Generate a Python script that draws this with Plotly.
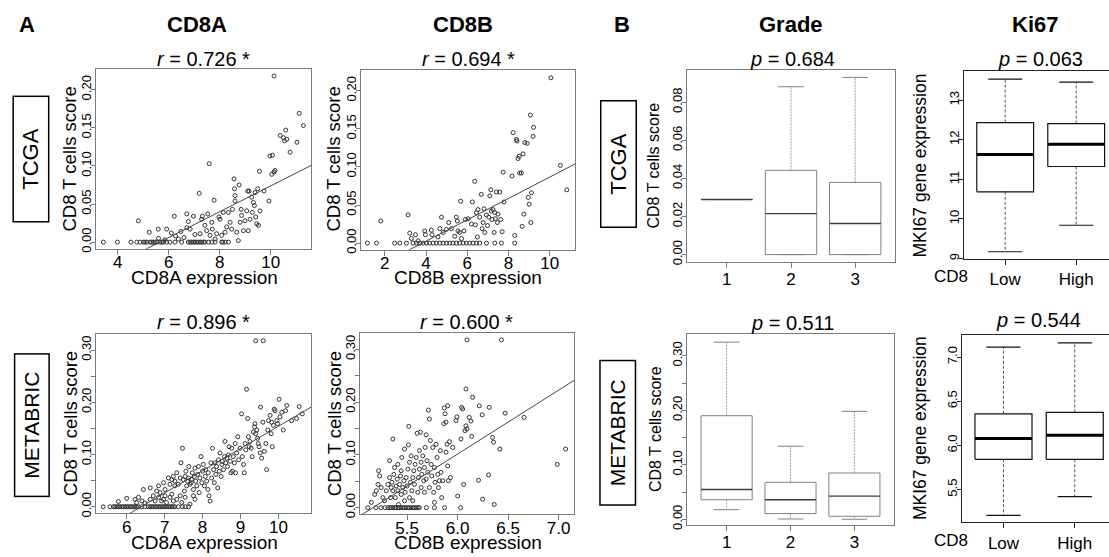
import plotly.graph_objects as go

W, H = 1109, 557
FONT = "Liberation Sans, Arial, Helvetica, sans-serif"

# ---------------- data ----------------
# TCGA: CD8A expression vs CD8 T cells score
tcga_cd8a_zero_x = [3.44, 3.99, 4.52, 4.75, 4.88, 5.01, 5.07, 5.14, 5.27, 5.33, 5.40, 5.46, 5.53,
                    5.66, 5.73, 5.79, 5.92, 6.05, 6.25, 6.51, 6.77, 6.84, 6.90, 6.97, 7.03, 7.10,
                    7.16, 7.23, 7.29, 7.36, 7.42, 7.56, 7.69, 7.82, 8.08, 8.12, 8.21, 8.34]
tcga_cd8a_points = [
    (4.81, 0.028), (5.24, 0.013), (5.59, 0.017), (5.92, 0.017), (6.22, 0.034), (6.27, 0.008),
    (6.38, 0.004), (6.48, 0.014), (6.71, 0.037), (6.77, 0.027), (6.71, 0.019), (6.97, 0.034),
    (6.84, 0.017), (7.03, 0.010), (7.20, 0.064), (7.23, 0.011), (7.29, 0.030), (7.32, 0.034),
    (7.42, 0.022), (7.49, 0.015), (7.53, 0.037), (7.59, 0.103), (7.62, 0.009), (7.69, 0.026),
    (7.71, 0.017), (7.78, 0.055), (7.82, 0.004), (7.88, 0.011), (7.97, 0.033), (8.01, 0.030),
    (8.08, 0.009), (8.14, 0.039), (8.21, 0.013), (8.27, 0.020), (8.34, 0.039), (8.41, 0.026),
    (8.47, 0.017), (8.50, 0.043), (8.56, 0.083), (8.58, 0.070), (8.60, 0.054), (8.60, 0.061),
    (8.67, 0.013), (8.73, 0.002), (8.76, 0.075), (8.80, 0.026), (8.84, 0.043), (8.86, 0.035),
    (8.93, 0.015), (8.99, 0.028), (9.06, 0.041), (9.10, 0.067), (9.12, 0.015), (9.15, 0.067),
    (9.19, 0.030), (9.25, 0.059), (9.28, 0.039), (9.32, 0.052), (9.36, 0.048), (9.39, 0.065),
    (9.41, 0.033), (9.45, 0.024), (9.49, 0.070), (9.52, 0.022), (9.56, 0.093), (9.58, 0.041),
    (9.74, 0.067), (9.93, 0.054), (9.97, 0.113), (10.04, 0.089), (10.07, 0.114), (10.13, 0.092),
    (10.17, 0.094), (10.13, 0.218), (10.37, 0.140), (10.50, 0.137), (10.54, 0.133), (10.59, 0.147),
    (10.63, 0.135), (10.76, 0.118), (11.03, 0.131), (11.12, 0.169), (11.28, 0.153),
    (5.60, 0.005), (5.85, 0.003), (6.10, 0.012), (6.60, 0.006)]

# TCGA: CD8B expression vs CD8 T cells score
tcga_cd8b_zero_x = [1.16, 1.60, 2.48, 2.73, 3.05, 3.37, 3.53, 3.70, 3.86, 4.02, 4.18, 4.34, 4.50,
                    4.67, 4.83, 4.99, 5.15, 5.31, 5.47, 5.63, 5.80, 5.96, 6.12, 6.28, 6.44, 6.60,
                    6.93, 7.33, 7.65, 8.30]
tcga_cd8b_points = [
    (1.81, 0.029), (3.13, 0.037), (3.21, 0.013), (3.29, 0.006), (3.49, 0.011), (3.62, 0.003),
    (3.94, 0.016), (3.97, 0.011), (4.26, 0.017), (4.29, 0.011), (4.58, 0.008), (4.67, 0.019),
    (4.75, 0.034), (4.83, 0.014), (4.99, 0.018), (5.10, 0.027), (5.23, 0.019), (5.39, 0.009),
    (5.47, 0.034), (5.52, 0.029), (5.55, 0.016), (5.63, 0.014), (5.68, 0.055), (5.72, 0.006),
    (5.84, 0.016), (5.91, 0.031), (6.04, 0.032), (6.20, 0.025), (6.25, 0.054), (6.36, 0.081),
    (6.39, 0.024), (6.44, 0.040), (6.49, 0.008), (6.52, 0.044), (6.60, 0.034), (6.68, 0.064),
    (6.72, 0.019), (6.77, 0.027), (6.81, 0.045), (6.85, 0.014), (6.93, 0.037), (6.98, 0.023),
    (7.04, 0.034), (7.09, 0.062), (7.14, 0.070), (7.17, 0.042), (7.20, 0.031), (7.25, 0.044),
    (7.30, 0.014), (7.33, 0.040), (7.36, 0.032), (7.41, 0.067), (7.46, 0.027), (7.49, 0.038),
    (7.57, 0.067), (7.62, 0.031), (7.69, 0.015), (7.74, 0.093), (7.78, 0.054), (8.17, 0.088),
    (8.22, 0.145), (8.30, 0.010), (8.38, 0.136), (8.41, 0.134), (8.46, 0.111), (8.51, 0.114),
    (8.54, 0.092), (8.62, 0.092), (8.66, 0.022), (8.70, 0.117), (8.74, 0.038), (8.79, 0.132),
    (8.90, 0.131), (8.95, 0.060), (9.00, 0.051), (9.06, 0.168), (9.08, 0.027), (9.11, 0.066),
    (9.19, 0.140), (9.21, 0.152), (10.05, 0.217), (10.51, 0.102), (10.82, 0.070)]

# METABRIC: CD8A expression vs CD8 T cells score
meta_cd8a_zero_x = [5.38, 5.56, 5.65, 5.69, 5.74, 5.78, 5.82, 5.87, 5.91, 5.96, 6.00, 6.04, 6.09,
                    6.13, 6.18, 6.22, 6.26, 6.31, 6.40, 6.48, 6.57, 6.62, 6.66, 6.70, 6.75, 6.79,
                    6.84, 6.88, 6.92, 6.97, 7.01, 7.05, 7.10, 7.14, 7.19, 7.23, 7.27, 7.36, 7.47,
                    7.54, 7.63]
meta_cd8a_points = [
    (5.78, 0.010), (6.00, 0.016), (6.22, 0.014), (6.26, 0.008), (6.31, 0.018), (6.40, 0.011),
    (6.48, 0.007), (6.62, 0.014), (6.70, 0.021), (6.75, 0.011), (6.84, 0.018), (6.88, 0.027),
    (6.92, 0.011), (6.97, 0.014), (7.01, 0.021), (7.05, 0.008), (7.14, 0.018), (7.19, 0.024),
    (7.23, 0.011), (7.32, 0.014), (7.41, 0.021), (7.45, 0.008), (7.54, 0.018), (7.67, 0.005),
    (7.76, 0.021), (7.80, 0.014),
    (6.44, 0.033), (6.62, 0.036), (6.79, 0.030), (6.84, 0.040), (6.97, 0.046), (7.01, 0.033),
    (7.10, 0.055), (7.14, 0.043), (7.19, 0.052), (7.23, 0.058), (7.27, 0.049), (7.27, 0.040),
    (7.32, 0.065), (7.36, 0.043), (7.41, 0.055), (7.43, 0.084), (7.47, 0.112), (7.49, 0.052),
    (7.52, 0.030), (7.54, 0.058), (7.56, 0.068), (7.58, 0.040), (7.61, 0.049), (7.63, 0.055),
    (7.64, 0.077), (7.67, 0.043), (7.70, 0.046), (7.71, 0.052), (7.73, 0.065), (7.76, 0.033),
    (7.78, 0.058), (7.80, 0.074), (7.82, 0.049), (7.85, 0.040), (7.87, 0.062), (7.89, 0.077),
    (7.91, 0.027), (7.93, 0.055), (7.96, 0.096), (7.98, 0.046), (8.00, 0.068), (8.02, 0.081),
    (8.05, 0.040), (8.07, 0.058), (8.08, 0.071), (8.11, 0.049), (8.14, 0.033), (8.15, 0.065),
    (8.17, 0.021), (8.20, 0.011), (8.22, 0.084), (8.24, 0.055), (8.26, 0.112), (8.29, 0.071),
    (8.31, 0.046), (8.33, 0.084), (8.35, 0.062), (8.37, 0.077), (8.40, 0.036), (8.42, 0.090),
    (8.44, 0.068), (8.46, 0.103), (8.49, 0.058), (8.51, 0.081), (8.52, 0.087), (8.55, 0.071),
    (8.58, 0.096), (8.59, 0.125), (8.61, 0.084), (8.64, 0.093), (8.66, 0.077), (8.68, 0.099),
    (8.70, 0.115), (8.73, 0.087), (8.75, 0.065), (8.77, 0.112), (8.79, 0.068), (8.81, 0.096),
    (8.84, 0.084), (8.86, 0.121), (8.87, 0.065), (8.90, 0.103), (8.93, 0.134), (8.95, 0.090),
    (8.99, 0.112), (9.03, 0.178), (9.05, 0.096), (9.08, 0.081), (9.10, 0.065), (9.12, 0.121),
    (9.14, 0.109), (9.16, 0.225), (9.19, 0.169), (9.21, 0.134), (9.23, 0.115), (9.25, 0.125),
    (9.28, 0.112), (9.31, 0.096), (9.34, 0.143), (9.37, 0.153), (9.38, 0.159), (9.40, 0.140),
    (9.43, 0.147), (9.45, 0.131), (9.47, 0.121), (9.49, 0.115), (9.52, 0.103), (9.53, 0.191),
    (9.56, 0.093), (9.59, 0.162), (9.60, 0.318), (9.40, 0.318), (9.63, 0.106), (9.67, 0.121),
    (9.69, 0.071), (9.72, 0.147), (9.74, 0.165), (9.78, 0.175), (9.81, 0.140), (9.82, 0.162),
    (9.84, 0.115), (9.87, 0.156), (9.89, 0.187), (9.91, 0.184), (9.96, 0.165), (9.98, 0.159),
    (10.02, 0.206), (10.04, 0.172), (10.09, 0.181), (10.13, 0.147), (10.19, 0.184),
    (10.22, 0.194), (10.35, 0.165), (10.48, 0.169), (10.55, 0.192), (10.63, 0.178)]

# METABRIC: CD8B expression vs CD8 T cells score
meta_cd8b_zero_x = [5.11, 5.19, 5.24, 5.28, 5.31, 5.33, 5.34, 5.36, 5.38, 5.39, 5.41, 5.42, 5.44,
                    5.46, 5.47, 5.49, 5.51, 5.52, 5.54, 5.56, 5.57, 5.59, 5.61, 5.62, 5.69, 5.77,
                    5.87, 6.03]
meta_cd8b_points = [
    (5.145, 0.010), (5.178, 0.025), (5.194, 0.032), (5.211, 0.044), (5.227, 0.060), (5.217, 0.070),
    (5.243, 0.038), (5.260, 0.019), (5.276, 0.013), (5.293, 0.032), (5.309, 0.044), (5.326, 0.057),
    (5.326, 0.089), (5.336, 0.019), (5.342, 0.038), (5.349, 0.048), (5.359, 0.032), (5.359, 0.130),
    (5.368, 0.063), (5.375, 0.076), (5.382, 0.019), (5.391, 0.041), (5.401, 0.054), (5.408, 0.032),
    (5.408, 0.082), (5.414, 0.006), (5.424, 0.044), (5.434, 0.060), (5.441, 0.025), (5.441, 0.070),
    (5.447, 0.095), (5.457, 0.038), (5.467, 0.051), (5.474, 0.111), (5.474, 0.013), (5.480, 0.029),
    (5.490, 0.057), (5.500, 0.041), (5.507, 0.073), (5.513, 0.119), (5.516, 0.154), (5.523, 0.086),
    (5.523, 0.019), (5.533, 0.048), (5.539, 0.098), (5.546, 0.032), (5.556, 0.057), (5.556, 0.013),
    (5.566, 0.070), (5.572, 0.044), (5.579, 0.082), (5.589, 0.095), (5.599, 0.141), (5.605, 0.029),
    (5.612, 0.057), (5.622, 0.073), (5.622, 0.108), (5.632, 0.143), (5.638, 0.038), (5.638, 0.086),
    (5.645, 0.063), (5.655, 0.098), (5.664, 0.051), (5.671, 0.076), (5.671, 0.029), (5.678, 0.114),
    (5.688, 0.054), (5.688, 0.138), (5.697, 0.089), (5.704, 0.067), (5.711, 0.185), (5.720, 0.168),
    (5.720, 0.038), (5.730, 0.127), (5.737, 0.082), (5.743, 0.060), (5.753, 0.114), (5.763, 0.029),
    (5.770, 0.010), (5.770, 0.076), (5.776, 0.048), (5.786, 0.120), (5.796, 0.095), (5.803, 0.063),
    (5.809, 0.038), (5.819, 0.051), (5.829, 0.108), (5.836, 0.067), (5.842, 0.019), (5.852, 0.051),
    (5.862, 0.159), (5.868, 0.189), (5.875, 0.178), (5.885, 0.162), (5.885, 0.105), (5.895, 0.120),
    (5.901, 0.193), (5.901, 0.079), (5.908, 0.051), (5.918, 0.125), (5.928, 0.057), (5.951, 0.114),
    (5.984, 0.165), (5.993, 0.172), (6.000, 0.022), (6.033, 0.130), (6.039, 0.190), (6.049, 0.187),
    (6.059, 0.044), (6.072, 0.146), (6.082, 0.225), (6.082, 0.155), (6.092, 0.149), (6.115, 0.171),
    (6.132, 0.164), (6.138, 0.135), (6.148, 0.209), (6.207, 0.052), (6.214, 0.193), (6.243, 0.176),
    (6.247, 0.016), (6.306, 0.062), (6.313, 0.190), (6.345, 0.133), (6.355, 0.124), (6.362, 0.006),
    (6.418, 0.111), (6.470, 0.179), (6.658, 0.171), (6.987, 0.082), (7.069, 0.111),
    (6.092, 0.318), (6.434, 0.318)]

# Regression lines: score = intercept + slope * expression
fit_panels = ["TCGA CD8A", "TCGA CD8B", "METABRIC CD8A", "METABRIC CD8B"]
fit_slope = [0.01696, 0.01403, 0.04256, 0.1211]
fit_intercept = [-0.0958, -0.0536, -0.2715, -0.625]
r_values = ["0.726", "0.694", "0.896", "0.600"]

# Grade box plots (CD8 T cells score)
grade_labels = ["1", "2", "3"]
grade_tcga_lower = [0.0289, 0.000, 0.000]
grade_tcga_q1 = [0.0289, 0.000, 0.000]
grade_tcga_median = [0.0289, 0.0215, 0.0163]
grade_tcga_q3 = [0.0289, 0.0442, 0.0379]
grade_tcga_upper = [0.0289, 0.0881, 0.0930]
grade_meta_lower = [0.0176, 0.0005, 0.000]
grade_meta_q1 = [0.0358, 0.0104, 0.0055]
grade_meta_median = [0.0545, 0.0358, 0.0424]
grade_meta_q3 = [0.190, 0.0678, 0.0849]
grade_meta_upper = [0.325, 0.134, 0.198]
grade_p = ["0.684", "0.511"]

# Ki67 box plots (MKI67 gene expression by CD8 group)
ki67_labels = ["Low", "High"]
ki67_tcga_lower = [9.17, 9.84]
ki67_tcga_q1 = [10.685, 11.325]
ki67_tcga_median = [11.625, 11.89]
ki67_tcga_q3 = [12.435, 12.41]
ki67_tcga_upper = [13.535, 13.46]
ki67_meta_lower = [5.208, 5.42]
ki67_meta_q1 = [5.843, 5.843]
ki67_meta_median = [6.078, 6.115]
ki67_meta_q3 = [6.358, 6.373]
ki67_meta_upper = [7.112, 7.16]
ki67_p = ["0.063", "0.544"]

# ---------------- figure ----------------
fig = go.Figure()


def dom_x(a, b):
    return [a / W, min(b / W, 1.0)]


def dom_y(top, bottom):
    return [1 - bottom / H, 1 - top / H]


def refs(k):
    return ("x" if k == 1 else f"x{k}"), ("y" if k == 1 else f"y{k}")


GRAY_AX = "#7a7a7a"
BLACK_AX = "#222222"

panels = {
    1: dict(dx=(96, 311), dy=(70, 251), xr=[3.15, 11.58], yr=[-0.0087, 0.2267],
            xt=[4, 6, 8, 10], xtt=["4", "6", "8", "10"], xso=-7,
            yt=[0, 0.05, 0.10, 0.15, 0.20], ytt=["0.00", "0.05", "0.10", "0.15", "0.20"], ax=GRAY_AX),
    2: dict(dx=(361, 575), dy=(71, 252), xr=[0.85, 11.22], yr=[-0.0087, 0.2267],
            xt=[2, 4, 6, 8, 10], xtt=["2", "4", "6", "8", "10"], xso=-7,
            yt=[0, 0.05, 0.10, 0.15, 0.20], ytt=["0.00", "0.05", "0.10", "0.15", "0.20"], ax=GRAY_AX),
    3: dict(dx=(687, 895), dy=(71, 264), xr=[0.38, 3.62], yr=[-0.0037, 0.0967],
            xt=[1, 2, 3], xtt=grade_labels, xso=-3,
            yt=[0, 0.02, 0.04, 0.06, 0.08], ytt=["0.00", "0.02", "0.04", "0.06", "0.08"], ax=GRAY_AX),
    4: dict(dx=(964, 1109), dy=(72, 261), xr=[0.42, 2.462], yr=[8.995, 13.73],
            xt=[1, 2], xtt=ki67_labels, xso=0,
            yt=[9, 10, 11, 12, 13], ytt=["9", "10", "11", "12", "13"], ax=BLACK_AX),
    5: dict(dx=(96, 311), dy=(337, 518), xr=[5.19, 10.86], yr=[-0.0127, 0.331],
            xt=[6, 7, 8, 9, 10], xtt=["6", "7", "8", "9", "10"], xso=-7,
            yt=[0, 0.05, 0.10, 0.15, 0.20, 0.25, 0.30], ytt=["0.00", "", "0.10", "", "0.20", "", "0.30"], ax=GRAY_AX),
    6: dict(dx=(360, 574), dy=(336, 519), xr=[5.033, 7.152], yr=[-0.0127, 0.331],
            xt=[5.5, 6.0, 6.5, 7.0], xtt=["5.5", "6.0", "6.5", "7.0"], xso=-7,
            yt=[0, 0.05, 0.10, 0.15, 0.20, 0.25, 0.30], ytt=["0.00", "", "0.10", "", "0.20", "", "0.30"], ax=GRAY_AX),
    7: dict(dx=(687, 894), dy=(337, 530), xr=[0.38, 3.62], yr=[-0.011, 0.340],
            xt=[1, 2, 3], xtt=grade_labels, xso=-4,
            yt=[0, 0.05, 0.10, 0.15, 0.20, 0.25, 0.30], ytt=["0.00", "", "0.10", "", "0.20", "", "0.30"], ax=GRAY_AX),
    8: dict(dx=(962, 1109), dy=(338, 527), xr=[0.418, 2.48], yr=[5.13, 7.25],
            xt=[1, 2], xtt=ki67_labels, xso=0,
            yt=[5.5, 6.0, 6.5, 7.0], ytt=["5.5", "6.0", "6.5", "7.0"], ax=BLACK_AX),
}

layout_axes = {}
for k, p in panels.items():
    xn = "xaxis" if k == 1 else f"xaxis{k}"
    yn = "yaxis" if k == 1 else f"yaxis{k}"
    xr, yr = refs(k)
    is_ki = k in (4, 8)
    layout_axes[xn] = dict(
        domain=dom_x(*p["dx"]), range=p["xr"], anchor=yr, showgrid=False, zeroline=False,
        showline=True, mirror=True, linecolor=p["ax"], linewidth=1,
        ticks="outside", ticklen=5, tickcolor=p["ax"], tickwidth=1,
        ticklabelstandoff=p["xso"],
        tickvals=p["xt"], ticktext=p["xtt"], tickfont=dict(size=17, color="black", family=FONT),
    )
    layout_axes[yn] = dict(
        domain=dom_y(*p["dy"]), range=p["yr"], anchor=xr, showgrid=False, zeroline=False,
        showline=True, mirror=(not is_ki), linecolor=p["ax"], linewidth=1,
        ticks="outside", ticklen=4, tickcolor=p["ax"], tickwidth=1,
        ticklabelstandoff=-5,
        tickvals=p["yt"], ticktext=p["ytt"], tickangle=-90,
        tickfont=dict(size=13, color="black", family=FONT),
    )

# scatter panels
scatter_sets = [
    (1, tcga_cd8a_zero_x, tcga_cd8a_points),
    (2, tcga_cd8b_zero_x, tcga_cd8b_points),
    (5, meta_cd8a_zero_x, meta_cd8a_points),
    (6, meta_cd8b_zero_x, meta_cd8b_points),
]
for idx, (k, zx, pts) in enumerate(scatter_sets):
    xr, yr = refs(k)
    xs = list(zx) + [p[0] for p in pts]
    ys = [0.0] * len(zx) + [p[1] for p in pts]
    fig.add_trace(go.Scatter(
        x=xs, y=ys, mode="markers", xaxis=xr, yaxis=yr, hoverinfo="skip",
        marker=dict(symbol="circle-open", size=4, color="#333333", line=dict(width=1, color="#333333")),
    ))
    x0, x1 = panels[k]["xr"]
    fig.add_trace(go.Scatter(
        x=[x0, x1], y=[fit_intercept[idx] + fit_slope[idx] * x0, fit_intercept[idx] + fit_slope[idx] * x1],
        mode="lines", xaxis=xr, yaxis=yr, hoverinfo="skip",
        line=dict(color="#444444", width=1),
    ))


def add_boxes(k, lower, q1, med, q3, upper, hw, shw, box_col, box_w, med_col, med_w,
              wh_col, wh_dash, st_col, st_w):
    xr, yr = refs(k)
    pos = list(range(1, len(med) + 1))
    wx, wy, bx, by, mx, my, sx, sy = [], [], [], [], [], [], [], []
    for p, lo, a, m, b, hi in zip(pos, lower, q1, med, q3, upper):
        wx += [p, p, None, p, p, None]
        wy += [b, hi, None, a, lo, None]
        bx += [p - hw, p + hw, p + hw, p - hw, p - hw, None]
        by += [a, a, b, b, a, None]
        mx += [p - hw, p + hw, None]
        my += [m, m, None]
        sx += [p - shw, p + shw, None, p - shw, p + shw, None]
        sy += [hi, hi, None, lo, lo, None]
    fig.add_trace(go.Scatter(x=wx, y=wy, mode="lines", xaxis=xr, yaxis=yr, hoverinfo="skip",
                             line=dict(color=wh_col, width=1, dash=wh_dash)))
    fig.add_trace(go.Scatter(x=bx, y=by, mode="lines", xaxis=xr, yaxis=yr, hoverinfo="skip",
                             line=dict(color=box_col, width=box_w)))
    fig.add_trace(go.Scatter(x=sx, y=sy, mode="lines", xaxis=xr, yaxis=yr, hoverinfo="skip",
                             line=dict(color=st_col, width=st_w)))
    fig.add_trace(go.Scatter(x=mx, y=my, mode="lines", xaxis=xr, yaxis=yr, hoverinfo="skip",
                             line=dict(color=med_col, width=med_w)))


grade_style = dict(hw=0.4, shw=0.2, box_col="#808080", box_w=1, med_col="#3c3c3c", med_w=1.4,
                   wh_col="#a0a0a0", wh_dash="2px,1px", st_col="#808080", st_w=1)
ki_style = dict(hw=0.4, shw=0.24, box_col="#111111", box_w=1.2, med_col="#000000", med_w=3,
                wh_col="#555555", wh_dash="3px,2px", st_col="#111111", st_w=1.2)

add_boxes(3, grade_tcga_lower, grade_tcga_q1, grade_tcga_median, grade_tcga_q3, grade_tcga_upper, **grade_style)
add_boxes(7, grade_meta_lower, grade_meta_q1, grade_meta_median, grade_meta_q3, grade_meta_upper, **grade_style)
add_boxes(4, ki67_tcga_lower, ki67_tcga_q1, ki67_tcga_median, ki67_tcga_q3, ki67_tcga_upper, **ki_style)
add_boxes(8, ki67_meta_lower, ki67_meta_q1, ki67_meta_median, ki67_meta_q3, ki67_meta_upper, **ki_style)

# ---------------- annotations ----------------
ann = []


def txt(x, y, s, size, bold=False, angle=0, xanchor="center", yanchor="middle", **kw):
    if bold:
        s = f"<b>{s}</b>"
    d = dict(x=x / W, y=1 - y / H, xref="paper", yref="paper", text=s, showarrow=False,
             font=dict(size=size, color="black", family=FONT), textangle=angle,
             xanchor=xanchor, yanchor=yanchor)
    d.update(kw)
    ann.append(d)


# panel headings
txt(27, 25, "A", 22, bold=True)
txt(197, 25, "CD8A", 22, bold=True)
txt(463, 25, "CD8B", 22, bold=True)
txt(622, 25, "B", 22, bold=True)
txt(791, 25, "Grade", 22, bold=True)
txt(1035, 25, "Ki67", 22, bold=True)

# correlation labels
txt(203.5, 60, f"<i>r</i> = {r_values[0]} *", 20)
txt(468, 60, f"<i>r</i> = {r_values[1]} *", 20)
txt(203.5, 325, f"<i>r</i> = {r_values[2]} *", 20)
txt(467, 325, f"<i>r</i> = {r_values[3]} *", 20)

# p-values
txt(792, 60, f"<i>p</i> = {grade_p[0]}", 20)
txt(1040, 60, f"<i>p</i> = {ki67_p[0]}", 20)
txt(792, 326, f"<i>p</i> = {grade_p[1]}", 20)
txt(1038, 323, f"<i>p</i> = {ki67_p[1]}", 20)

# x axis titles
txt(204, 280, "CD8A expression", 19)
txt(468, 280, "CD8B expression", 19)
txt(204, 547, "CD8A expression", 19)
txt(468, 547, "CD8B expression", 19)

# y axis titles
txt(70, 161, "CD8 T cells score", 18.5, angle=-90)
txt(334, 161, "CD8 T cells score", 18.5, angle=-90)
txt(70, 428, "CD8 T cells score", 18.5, angle=-90)
txt(334, 428, "CD8 T cells score", 18.5, angle=-90)
txt(654, 167, "CD8 T cells score", 16, angle=-90)
txt(655, 433, "CD8 T cells score", 16, angle=-90)
txt(920, 167, "MKI67 gene expression", 17.5, angle=-90)
txt(920, 432, "MKI67 gene expression", 17.5, angle=-90)

# CD8 group label
txt(951, 279, "CD8", 17)
txt(951, 545, "CD8", 17)

# row label boxes
box_kw = dict(bordercolor="black", borderwidth=1.5, borderpad=0)
txt(31, 161, "TCGA", 22, angle=-90, width=124, height=34, **box_kw)
txt(31.5, 429.5, "METABRIC", 21, angle=-90, width=141, height=33, **box_kw)
txt(618, 165.5, "TCGA", 22, angle=-90, width=125, height=34, **box_kw)
txt(618, 436.7, "METABRIC", 21, angle=-90, width=143, height=34, **box_kw)

fig.update_layout(
    width=W, height=H, margin=dict(l=0, r=0, t=0, b=0),
    paper_bgcolor="white", plot_bgcolor="white", showlegend=False,
    font=dict(family=FONT, color="black"),
    annotations=ann, **layout_axes,
)

fig.write_html("out.html", config={"displayModeBar": False},
               post_script="document.body.style.margin='0px';document.body.style.overflow='hidden';")
